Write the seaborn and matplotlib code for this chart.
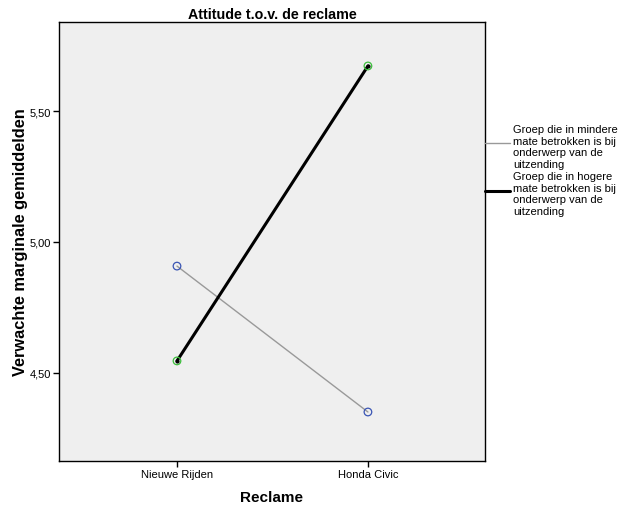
import matplotlib
matplotlib.use("Agg")
import matplotlib.pyplot as plt
import seaborn as sns
import pandas as pd
from matplotlib.lines import Line2D

# Data
reclame = ["Nieuwe Rijden", "Honda Civic"]
groepen = ["Groep die in mindere\nmate betrokken is bij\nonderwerp van de\nuitzending",
           "Groep die in hogere\nmate betrokken is bij\nonderwerp van de\nuitzending"]
mindere = [4.908, 4.351]
hogere = [4.546, 5.672]

data = pd.DataFrame({
    "Reclame": reclame * 2,
    "pos": [0, 1, 0, 1],
    "Groep": [groepen[0]] * 2 + [groepen[1]] * 2,
    "Gemiddelde": mindere + hogere,
})

sns.set_style("white")
plt.rcParams["font.family"] = ["Liberation Sans", "DejaVu Sans"]
plt.rcParams["text.color"] = "black"

fig = plt.figure(figsize=(6.19, 5.06), dpi=100)
ax = fig.add_axes([0.0953, 0.087, 0.6882, 0.8676])
ax.set_facecolor("#efefef")

line_colors = {groepen[0]: "#999999", groepen[1]: "black"}
line_widths = {groepen[0]: 1.0, groepen[1]: 2.2}
marker_colors = {groepen[0]: "#3a55b4", groepen[1]: "#3cbe3c"}

for g in groepen:
    sub = data[data["Groep"] == g]
    sns.lineplot(data=sub, x="pos", y="Gemiddelde", color=line_colors[g],
                 lw=line_widths[g], ax=ax, legend=False)
    ax.scatter(sub["pos"], sub["Gemiddelde"], s=30, facecolors="none",
               edgecolors=marker_colors[g], linewidths=0.9, zorder=4)
    if g == groepen[1]:
        ax.scatter(sub["pos"], sub["Gemiddelde"], s=4, color="black", zorder=5)

ax.set_xlim(-0.618, 1.613)
ax.set_ylim(4.164, 5.840)
ax.set_xticks([0, 1])
ax.set_xticklabels(reclame)
ax.set_yticks([4.5, 5.0, 5.5])
ax.set_yticklabels(["4,50", "5,00", "5,50"])
ax.tick_params(axis="both", which="both", direction="out", length=4, width=1,
               colors="black", labelcolor="black", labelsize=8, pad=2,
               bottom=True, left=True)
for s in ax.spines.values():
    s.set_color("black")
    s.set_linewidth(1.0)

ax.set_xlabel("Reclame", fontsize=11, fontweight="bold", labelpad=8, color="black")
ax.set_ylabel("Verwachte marginale gemiddelden", fontsize=11.8, fontweight="bold",
              labelpad=1, color="black")
ax.set_title("Attitude t.o.v. de reclame", fontsize=10.3, fontweight="bold", pad=3,
             color="black")

# legend drawn outside the axes, lines start at the right spine
W, H = 619, 506
for g, ypix, ytxt in zip(groepen, [144, 192], [147.5, 194.5]):
    fig.add_artist(Line2D([485 / W, 510 / W], [1 - ypix / H, 1 - ypix / H],
                          color=line_colors[g], lw=line_widths[g]))
    fig.text(513 / W, 1 - ytxt / H, g, fontsize=8, va="center", ha="left",
             linespacing=1.17, color="black")

fig.savefig("out.png", dpi=100)
